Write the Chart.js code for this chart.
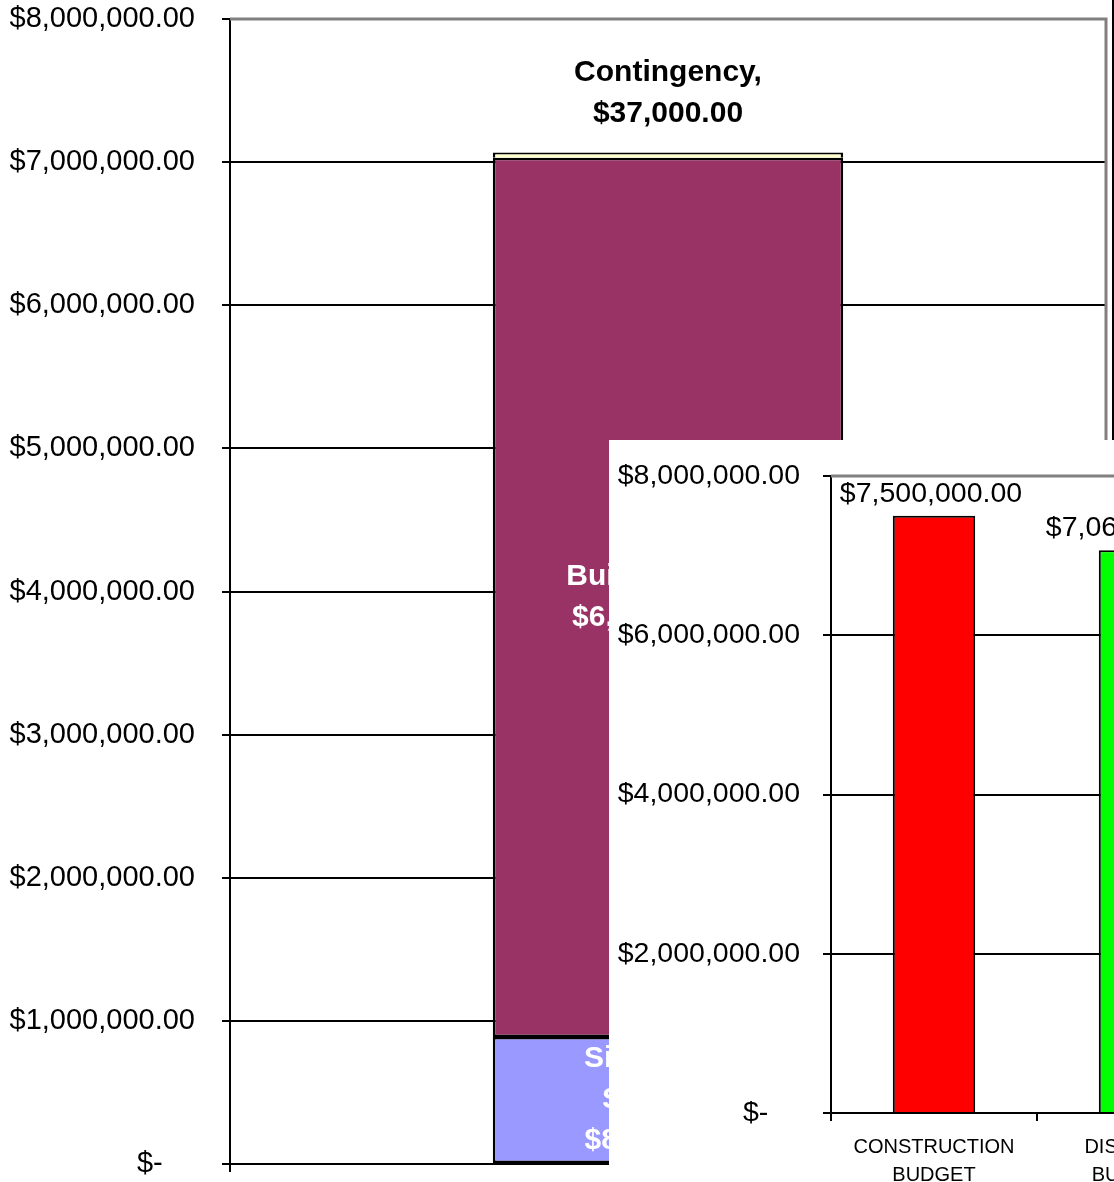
<!DOCTYPE html>
<html>
<head>
<meta charset="utf-8">
<script src="https://cdn.jsdelivr.net/npm/chart.js@4.4.1/dist/chart.umd.min.js"></script>
<style>
  html, body { margin: 0; padding: 0; width: 1114px; height: 1182px; overflow: hidden; background: #fff; }
  #costChart { position: absolute; left: 0; top: 0; }
  #budgetWrap { position: absolute; left: 609px; top: 440px; width: 660px; height: 742px; background: #fff; }
</style>
</head>
<body>
<canvas id="costChart" width="1114" height="1182"></canvas>
<div id="budgetWrap"><canvas id="budgetChart" width="660" height="742"></canvas></div>
<script>
// back chart: one stacked column split by cost item
var costCategories = [''];
var costSeries = ['Site Work & Services', 'Building Cost', 'Contingency'];
var siteValues = [887000];
var buildingValues = [6143000];
var contingencyValues = [37000];
var costTicks = [0, 1000000, 2000000, 3000000, 4000000, 5000000, 6000000, 7000000, 8000000];

// front chart: budget comparison
var budgetCategories = [['CONSTRUCTION', 'BUDGET'], ['DISCIPLINE', 'BUDGETS']];
var budgetValues = [7500000, 7067000];
var budgetTicks = [0, 2000000, 4000000, 6000000, 8000000];

var FONT = "'Liberation Sans', Arial, sans-serif";

function money(v) {
  if (v === 0) return '$-    ';
  return '$' + v.toLocaleString('en-US', { minimumFractionDigits: 2, maximumFractionDigits: 2 });
}

// label lines for each stacked segment (name wrapped like in Excel)
var costLabelLines = [['Site Work &', 'Services,'], ['Building Cost,'], ['Contingency,']];

var costLabels = {
  id: 'costLabels',
  afterDatasetsDraw: function (chart) {
    var c = chart.ctx;
    c.save();
    c.font = 'bold 30px ' + FONT;
    c.textAlign = 'center';
    c.textBaseline = 'middle';
    chart.data.datasets.forEach(function (ds, i) {
      var bar = chart.getDatasetMeta(i).data[0];
      var lines = costLabelLines[i].concat([money(ds.data[0])]);
      var y0;
      if (i === 2) {
        c.fillStyle = '#000';
        y0 = bar.y - 40 * lines.length;
      } else {
        c.fillStyle = '#fff';
        y0 = (bar.y + bar.base) / 2 - 20.5 * (lines.length - 1);
      }
      lines.forEach(function (t, k) { c.fillText(t, bar.x, y0 + k * 41); });
    });
    c.restore();
  },
  afterDraw: function (chart) {
    var a = chart.chartArea, c = chart.ctx;
    c.save();
    c.strokeStyle = '#808080';
    c.lineWidth = 3;
    c.beginPath();
    c.moveTo(a.left, a.top);
    c.lineTo(a.right, a.top);
    c.lineTo(a.right, a.bottom);
    c.stroke();
    c.strokeStyle = '#000';
    c.lineWidth = 2;
    c.beginPath();
    c.moveTo(a.left, a.bottom);
    c.lineTo(a.left, a.bottom + 8);
    c.moveTo(a.right + 7, 0);
    c.lineTo(a.right + 7, chart.height);
    c.stroke();
    c.restore();
  }
};

function noPad(s) { s.paddingTop = 0; s.paddingBottom = 0; }

new Chart(document.getElementById('costChart'), {
  type: 'bar',
  data: {
    labels: costCategories,
    datasets: [
      { label: costSeries[0], data: siteValues, backgroundColor: '#9999FF' },
      { label: costSeries[1], data: buildingValues, backgroundColor: '#993366' },
      {
        label: costSeries[2], data: contingencyValues, backgroundColor: '#FFFFCC',
        borderWidth: { top: 2, left: 2.5, right: 2.5, bottom: 0 }
      }
    ]
  },
  options: {
    responsive: false,
    animation: false,
    layout: { padding: { top: 19, bottom: 18, right: 8, left: 0 } },
    datasets: { bar: { borderColor: '#000', borderWidth: 2.5, borderSkipped: false, categoryPercentage: 1, barPercentage: 0.4 } },
    plugins: { legend: { display: false }, tooltip: { enabled: false } },
    scales: {
      x: {
        stacked: true,
        afterFit: function (s) { s.height = 0; },
        grid: { display: false },
        ticks: { display: false },
        border: { color: '#000', width: 2 }
      },
      y: {
        stacked: true,
        min: 0,
        max: 8000000,
        afterBuildTicks: function (s) { s.ticks = costTicks.map(function (v) { return { value: v }; }); },
        afterFit: function (s) { s.width = 230; noPad(s); },
        ticks: {
          color: '#000',
          padding: 27,
          font: { family: FONT, size: 29 },
          callback: function (v) { return money(v); }
        },
        grid: {
          color: function (ctx) { return ctx.tick && ctx.tick.value === 8000000 ? '#808080' : '#000'; },
          lineWidth: 2,
          tickLength: 8,
          tickColor: '#000'
        },
        border: { color: '#000', width: 2 }
      }
    }
  },
  plugins: [costLabels]
});

var budgetLabels = {
  id: 'budgetLabels',
  afterDatasetsDraw: function (chart) {
    var c = chart.ctx;
    c.save();
    c.font = '28.5px ' + FONT;
    c.fillStyle = '#000';
    c.textAlign = 'center';
    c.textBaseline = 'middle';
    chart.getDatasetMeta(0).data.forEach(function (bar, i) {
      c.fillText(money(budgetValues[i]), bar.x - 3, bar.y - 22);
    });
    c.restore();
  },
  afterDraw: function (chart) {
    var a = chart.chartArea, c = chart.ctx;
    c.save();
    c.strokeStyle = '#808080';
    c.lineWidth = 3;
    c.beginPath();
    c.moveTo(a.left, a.top);
    c.lineTo(a.right, a.top);
    c.stroke();
    c.restore();
  }
};

new Chart(document.getElementById('budgetChart'), {
  type: 'bar',
  data: {
    labels: budgetCategories,
    datasets: [{
      data: budgetValues,
      backgroundColor: ['#FF0000', '#00FF00'],
      borderColor: '#000',
      borderWidth: 2,
      categoryPercentage: 1,
      barPercentage: 0.4
    }]
  },
  options: {
    responsive: false,
    animation: false,
    layout: { padding: { top: 36, bottom: 0, right: 26, left: 0 } },
    plugins: { legend: { display: false }, tooltip: { enabled: false } },
    scales: {
      x: {
        afterFit: function (s) { s.height = 69; },
        grid: { drawOnChartArea: false, color: '#000', lineWidth: 2, tickLength: 8 },
        border: { color: '#000', width: 2 },
        ticks: {
          color: '#000',
          padding: 12,
          maxRotation: 0,
          font: { family: FONT, size: 20, lineHeight: '28px' }
        }
      },
      y: {
        min: 0,
        max: 8000000,
        afterBuildTicks: function (s) { s.ticks = budgetTicks.map(function (v) { return { value: v }; }); },
        afterFit: function (s) { s.width = 222; noPad(s); },
        ticks: {
          color: '#000',
          padding: 23,
          font: { family: FONT, size: 28.5 },
          callback: function (v) { return money(v); }
        },
        grid: {
          color: function (ctx) { return ctx.tick && ctx.tick.value === 8000000 ? '#808080' : '#000'; },
          lineWidth: 2,
          tickLength: 8,
          tickColor: '#000'
        },
        border: { color: '#000', width: 2 }
      }
    }
  },
  plugins: [budgetLabels]
});
</script>
</body>
</html>
